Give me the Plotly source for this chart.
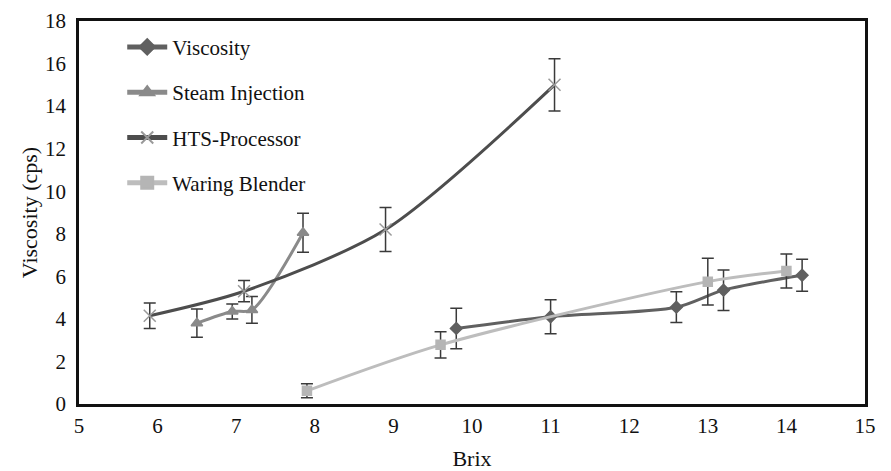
import plotly.graph_objects as go

# Data
visc_x = [9.8, 11.0, 12.6, 13.2, 14.2]
visc_y = [3.55, 4.1, 4.55, 5.35, 6.05]
visc_err = [0.95, 0.8, 0.72, 0.95, 0.75]

steam_x = [6.5, 6.95, 7.2, 7.85]
steam_y = [3.8, 4.35, 4.42, 8.05]
steam_err = [0.66, 0.35, 0.63, 0.92]

hts_x = [5.9, 7.1, 8.9, 11.05]
hts_y = [4.15, 5.3, 8.2, 15.0]
hts_err = [0.6, 0.5, 1.03, 1.23]

waring_x = [7.9, 9.6, 13.0, 14.0]
waring_y = [0.62, 2.78, 5.75, 6.25]
waring_err = [0.33, 0.62, 1.1, 0.8]

series = [
    ("Viscosity", visc_x, visc_y, visc_err, "#606060", "diamond", 9, "#606060"),
    ("Steam Injection", steam_x, steam_y, steam_err, "#8a8a8a", "triangle-up", 10, "#8a8a8a"),
    ("HTS-Processor", hts_x, hts_y, hts_err, "#4d4d4d", "x-thin", 12, "#9a9a9a"),
    ("Waring Blender", waring_x, waring_y, waring_err, "#bdbdbd", "square", 9, "#b5b5b5"),
]

SERIF = "Liberation Serif"
TXT = "#111"

fig = go.Figure()
for i, (name, xs, ys, es, col, sym, sz, mcol) in enumerate(series):
    fig.add_trace(go.Scatter(
        x=xs, y=ys, name=name, mode="lines+markers",
        legendgroup=f"g{i}",
        line=dict(color=col, width=3, shape="spline", smoothing=0.8),
        marker=dict(symbol=sym, size=sz, color=mcol,
                    line=dict(color=mcol, width=1.5)),
        error_y=dict(type="data", array=es, visible=True,
                     color="#3a3a3a", thickness=1.5, width=6),
    ))

fig.update_layout(
    width=891, height=471,
    margin=dict(l=79, r=26, t=21, b=67, autoexpand=False),
    paper_bgcolor="white", plot_bgcolor="white",
    font=dict(family=SERIF, size=21, color=TXT),
    showlegend=True,
    legend=dict(x=0.055, y=0.985, xanchor="left", yanchor="top",
                bgcolor="rgba(0,0,0,0)", font=dict(family=SERIF, size=21, color=TXT),
                traceorder="grouped", tracegroupgap=15,
                itemwidth=40, itemsizing="constant"),
)
fig.update_xaxes(range=[5, 15], dtick=1, tick0=5, showgrid=False, zeroline=False,
                 showline=True, linecolor="#111", linewidth=2.5, mirror=True,
                 ticks="", ticklabelstandoff=1, automargin=False,
                 title=dict(text="Brix", standoff=14, font=dict(family=SERIF, size=22, color=TXT)),
                 tickfont=dict(family=SERIF, size=21, color=TXT))
fig.update_yaxes(range=[0, 18], dtick=2, tick0=0, showgrid=False, zeroline=False,
                 showline=True, linecolor="#111", linewidth=2.5, mirror=True,
                 ticks="", ticklabelstandoff=6, automargin=False,
                 title=dict(text="Viscosity (cps)", standoff=2, font=dict(family=SERIF, size=22, color=TXT)),
                 tickfont=dict(family=SERIF, size=21, color=TXT))

fig.write_html("out.html")
